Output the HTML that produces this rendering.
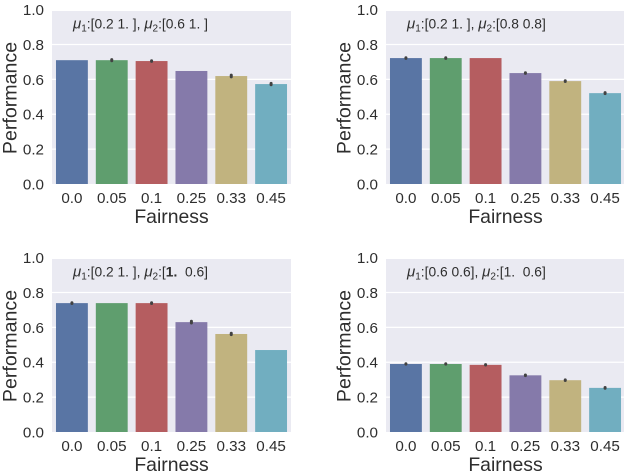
<!DOCTYPE html>
<html>
<head>
<meta charset="utf-8">
<style>
html,body{margin:0;padding:0;background:#fff;}
svg{display:block;filter:blur(0.35px);}
text{font-family:"Liberation Sans",sans-serif;fill:#2e2e2e;white-space:pre;}
</style>
</head>
<body>
<svg id="chart" width="624" height="474" viewBox="0 0 624 474" xmlns="http://www.w3.org/2000/svg"></svg>
<script>
const categories = ["0.0", "0.05", "0.1", "0.25", "0.33", "0.45"];
const yTicks = [0, 0.2, 0.4, 0.6, 0.8, 1.0];
const colors = ["#5975a4", "#5f9e6e", "#b55d60", "#857aaa", "#c1b37f", "#71aec0"];
const valuesA = [0.71, 0.71, 0.705, 0.648, 0.619, 0.573];
const valuesB = [0.722, 0.722, 0.722, 0.636, 0.59, 0.521];
const valuesC = [0.739, 0.739, 0.739, 0.63, 0.562, 0.47];
const valuesD = [0.39, 0.39, 0.385, 0.325, 0.297, 0.253];
const errorsA = [null, 0.003, 0.002, null, 0.005, 0.004];
const errorsB = [0.002, 0.002, null, 0.002, 0.002, 0.003];
const errorsC = [0.002, null, 0.002, 0.005, 0.004, null];
const errorsD = [0.001, 0.001, 0.001, 0.002, 0.002, 0.002];

const NS = "http://www.w3.org/2000/svg";
const svg = document.getElementById("chart");

function mk(parent, tag, attrs, txt) {
  const el = document.createElementNS(NS, tag);
  for (const k in attrs) el.setAttribute(k, attrs[k]);
  if (txt !== undefined) el.textContent = txt;
  parent.appendChild(el);
  return el;
}

function annotation(g, x, y, parts) {
  const t = mk(g, "text", {x: x, y: y, "font-size": 13.8});
  
  
  parts.forEach(function (p) {
    const attrs = {};
    if (p[1] === "i") attrs["font-style"] = "italic";
    if (p[1] === "i") attrs["font-size"] = 15;
    if (p[1] === "b") attrs["font-weight"] = "bold";
    if (p[1] === "s") { attrs["font-size"] = 10; attrs["dy"] = 3; }
    if (p[1] === "r") { attrs["dy"] = -3; }
    mk(t, "tspan", attrs, p[0]);
  });
}

function drawPanel(cfg) {
  const g = mk(svg, "g", {});
  
  
  const left = cfg.left, width = 239, bottom = cfg.bottom, h = 174.4;
  const yScale = function (v) { return bottom - v * h; };
  const band = width / categories.length;
  const xScale = function (i) { return left + band * (i + 0.5); };

  const bg = mk(g, "rect", {x: left, y: yScale(1) + 1.4, width: width, height: h - 1.4, fill: "#eaeaf2"});
  
  

  yTicks.forEach(function (v) {
    if (v > 0 && v < 1) {
      const line = mk(g, "line", {x1: left, x2: left + width, y1: yScale(v), y2: yScale(v), stroke: "#fff", "stroke-width": 1.2});
      
      
    }
    const lab = mk(g, "text", {x: left - 8, y: yScale(v) + 5.5, "text-anchor": "end", "font-size": 15.2}, v.toFixed(1));
    
    
  });

  categories.forEach(function (c, i) {
    const bw = band * 0.8;
    const bar = mk(g, "rect", {x: xScale(i) - bw / 2, y: yScale(cfg.values[i]), width: bw, height: cfg.values[i] * h, fill: colors[i]});
    
    
    const err = cfg.errors[i];
    if (err !== null) {
      const e = mk(g, "line", {x1: xScale(i), x2: xScale(i), y1: yScale(cfg.values[i] + err), y2: yScale(cfg.values[i] - err), stroke: "#424242", "stroke-width": 3, "stroke-linecap": "round"});
      
      
    }
    const lab = mk(g, "text", {x: xScale(i), y: bottom + 19, "text-anchor": "middle", "font-size": 15.2}, c);
    
    
  });

  const xt = mk(g, "text", {x: left + 119.5, y: bottom + 39, "text-anchor": "middle", "font-size": 19.4}, "Fairness");
  
  

  const yx = left - 35.5, yy = bottom - 86;
  const yt = mk(g, "text", {x: yx, y: yy, "text-anchor": "middle", "font-size": 19.6, transform: "rotate(-90 " + yx + " " + yy + ")"}, "Performance");
  
  

  annotation(g, left + 21, bottom - 155.5, cfg.note);
}

drawPanel({name: "panel-top-left", left: 52, bottom: 184, values: valuesA, errors: errorsA,
  note: [["μ", "i"], ["1", "s"], [":[0.2 1. ], ", "r"], ["μ", "i"], ["2", "s"], [":[0.6 1. ]", "r"]]});
drawPanel({name: "panel-top-right", left: 386, bottom: 184, values: valuesB, errors: errorsB,
  note: [["μ", "i"], ["1", "s"], [":[0.2 1. ], ", "r"], ["μ", "i"], ["2", "s"], [":[0.8 0.8]", "r"]]});
drawPanel({name: "panel-bottom-left", left: 52, bottom: 432, values: valuesC, errors: errorsC,
  note: [["μ", "i"], ["1", "s"], [":[0.2 1. ], ", "r"], ["μ", "i"], ["2", "s"], [":[", "r"], ["1.", "b"], ["  0.6]", ""]]});
drawPanel({name: "panel-bottom-right", left: 386, bottom: 432, values: valuesD, errors: errorsD,
  note: [["μ", "i"], ["1", "s"], [":[0.6 0.6], ", "r"], ["μ", "i"], ["2", "s"], [":[1.  0.6]", "r"]]});
</script>
</body>
</html>
